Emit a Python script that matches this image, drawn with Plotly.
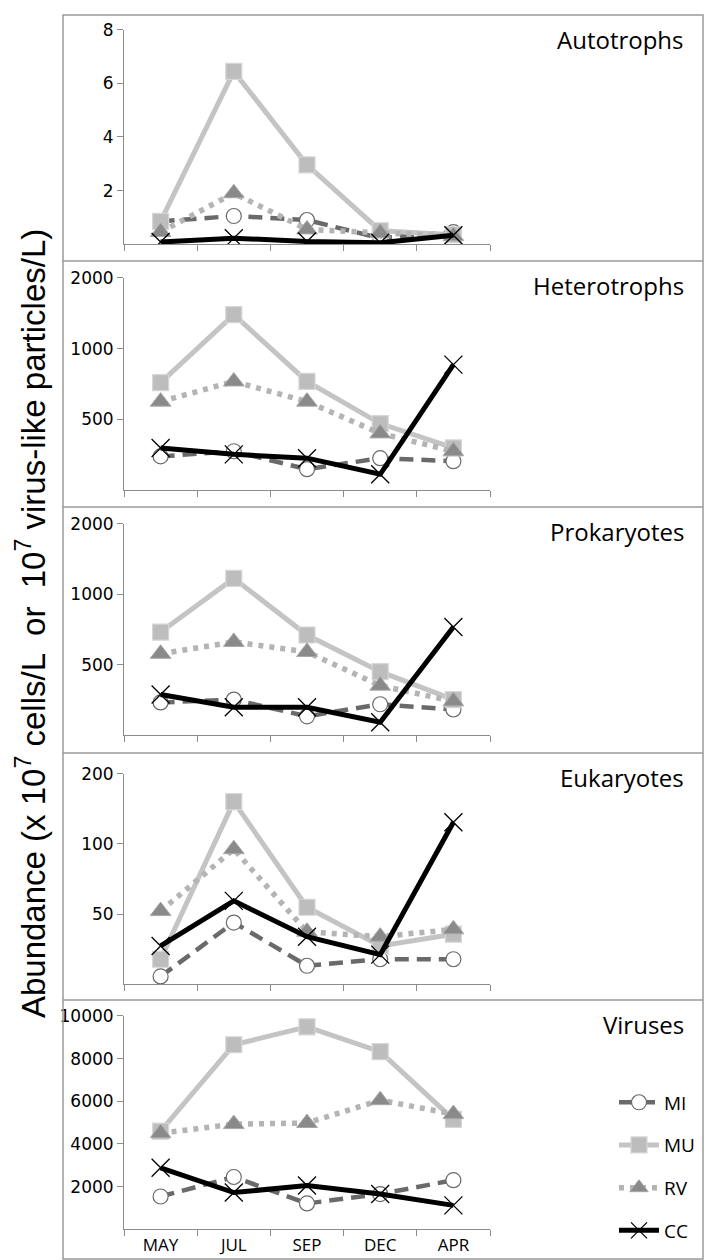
import math
import plotly.graph_objects as go

W, H = 704, 1260

months = ["MAY", "JUL", "SEP", "DEC", "APR"]
sites = ["MI", "MU", "RV", "CC"]

# Autotrophs (x 10^7 cells/L)
auto_MI = [0.85, 1.05, 0.9, 0.22, 0.45]
auto_MU = [0.85, 6.45, 2.96, 0.5, 0.35]
auto_RV = [0.45, 1.9, 0.55, 0.42, 0.3]
auto_CC = [0.08, 0.22, 0.1, 0.05, 0.33]

# Heterotrophs
hetero_MI = [348, 366, 307, 342, 332]
hetero_MU = [717, 1394, 725, 480, 378]
hetero_RV = [595, 725, 595, 436, 366]
hetero_CC = [378, 355, 342, 292, 855]

# Prokaryotes
prok_MI = [345, 355, 301, 339, 322]
prok_MU = [690, 1170, 670, 467, 355]
prok_RV = [557, 626, 567, 407, 349]
prok_CC = [373, 329, 329, 284, 725]

# Eukaryotes
euk_MI = [27, 46, 30, 32, 32]
euk_MU = [32, 152, 53.5, 36.5, 41]
euk_RV = [51.5, 95, 42, 40, 43]
euk_CC = [36.5, 57, 40, 33.5, 124]

# Viruses (x 10^7 virus-like particles/L)
vir_MI = [1535, 2450, 1210, 1650, 2300]
vir_MU = [4600, 8650, 9490, 8330, 5150]
vir_RV = [4500, 4930, 4980, 6050, 5400]
vir_CC = [2880, 1720, 2050, 1650, 1120]

panel_titles = ["Autotrophs", "Heterotrophs", "Prokaryotes", "Eukaryotes", "Viruses"]
panel_data = [
    [auto_MI, auto_MU, auto_RV, auto_CC],
    [hetero_MI, hetero_MU, hetero_RV, hetero_CC],
    [prok_MI, prok_MU, prok_RV, prok_CC],
    [euk_MI, euk_MU, euk_RV, euk_CC],
    [vir_MI, vir_MU, vir_RV, vir_CC],
]
tick_vals = [[2, 4, 6, 8], [500, 1000, 2000], [500, 1000, 2000], [50, 100, 200],
             [2000, 4000, 6000, 8000, 10000]]
axis_types = ["linear", "log", "log", "log", "linear"]
axis_ranges = [[0, 8], [math.log10(250), math.log10(2000)], [math.log10(250), math.log10(2000)],
               [math.log10(25), math.log10(200)], [0, 10000]]

# pixel layout of each panel: box edges and (plot top, plot bottom)
box_edges = [5, 253, 501, 749, 998, 1259]
plot_px = [(20, 236), (270, 484), (518, 731), (770, 982), (1014, 1229)]
x_px = (124, 490)
frame_left, frame_right = 63, 703

styles = {
    "MI": dict(line=dict(color="#6a6a6a", width=4.5, dash="14px,8px"),
               marker=dict(symbol="circle", size=15, color="white",
                           line=dict(color="#6a6a6a", width=1.2))),
    "MU": dict(line=dict(color="#c4c4c4", width=5),
               marker=dict(symbol="square", size=16, color="#bdbdbd",
                           line=dict(color="#d6d6d6", width=1.2))),
    "RV": dict(line=dict(color="#b4b4b4", width=5.5, dash="5px,6px"),
               marker=dict(symbol="triangle-up", size=18, color="#8a8a8a",
                           line=dict(color="#a8a8a8", width=1))),
    "CC": dict(line=dict(color="black", width=5),
               marker=dict(symbol="x-thin", size=18, color="black",
                           line=dict(color="black", width=1.3))),
}

def px_x(p):
    return p / W

def px_y(p):
    return 1 - p / H

fig = go.Figure()
axis_color = "#8c8c8c"

for i, (title, series) in enumerate(zip(panel_titles, panel_data)):
    n = "" if i == 0 else str(i + 1)
    for name, vals in zip(sites, series):
        fig.add_trace(go.Scatter(
            x=months, y=vals, name=name, mode="lines+markers",
            xaxis="x" + n, yaxis="y" + n,
            legendgroup=name, showlegend=(i == 4),
            **styles[name],
        ))
    top, bot = plot_px[i]
    fig.layout["xaxis" + n] = dict(
        domain=[px_x(x_px[0]), px_x(x_px[1])], anchor="y" + n,
        type="category", range=[-0.5, 4.5], tickson="boundaries",
        ticks="outside", ticklen=6, tickcolor=axis_color, tickwidth=1,
        showline=True, linecolor=axis_color, linewidth=1,
        showgrid=False, zeroline=False, showticklabels=(i == 4),
        tickfont=dict(family="Open Sans", size=17, color="black"),
    )
    fig.layout["yaxis" + n] = dict(
        domain=[px_y(bot), px_y(top)], anchor="x" + n,
        type=axis_types[i], range=axis_ranges[i],
        tickmode="array", tickvals=tick_vals[i], ticktext=[str(v) for v in tick_vals[i]],
        ticks="outside", ticklen=6, tickcolor=axis_color, tickwidth=1,
        showline=True, linecolor=axis_color, linewidth=1,
        showgrid=False, zeroline=False,
        tickfont=dict(family="DejaVu Sans", size=17, color="black"),
    )
    fig.add_annotation(
        text=title, xref="paper", yref="paper",
        x=px_x(686), y=px_y(box_edges[i] + 25), xanchor="right", yanchor="middle",
        showarrow=False, font=dict(family="Open Sans", size=24, color="black"),
    )

# frame around the stacked panels
shapes = [dict(type="rect", xref="paper", yref="paper",
               x0=px_x(frame_left), x1=px_x(frame_right),
               y0=px_y(box_edges[-1]), y1=px_y(box_edges[0]),
               line=dict(color="#9a9a9a", width=1.5))]
for e in box_edges[1:-1]:
    shapes.append(dict(type="line", xref="paper", yref="paper",
                       x0=px_x(frame_left), x1=px_x(frame_right),
                       y0=px_y(e), y1=px_y(e),
                       line=dict(color="#9a9a9a", width=1.5)))

fig.add_annotation(
    text="Abundance (x 10<sup>7</sup> cells/L \u00a0or \u00a010<sup>7</sup> virus-like particles/L)",
    xref="paper", yref="paper", x=px_x(31), y=px_y(619),
    textangle=-90, showarrow=False, xanchor="center", yanchor="middle",
    font=dict(family="Liberation Sans", size=33, color="black"),
)

fig.update_layout(
    width=W, height=H, margin=dict(l=0, r=0, t=0, b=0),
    paper_bgcolor="white", plot_bgcolor="white",
    shapes=shapes,
    showlegend=True,
    legend=dict(x=px_x(614), y=px_y(1082), xanchor="left", yanchor="top",
                tracegroupgap=15, bgcolor="rgba(0,0,0,0)",
                font=dict(family="Open Sans", size=19, color="black"),
                itemwidth=40),
)

fig.write_html("out.html", post_script="document.body.style.margin='0';")
